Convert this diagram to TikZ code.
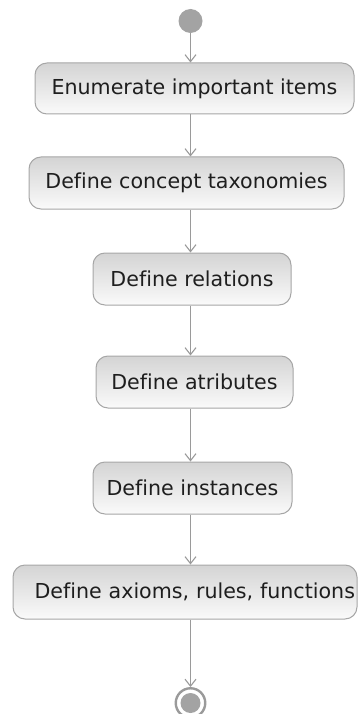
\documentclass[tikz,border=0pt]{standalone}
\usepackage{fontspec}
\setmainfont[Ligatures={NoCommon}]{DejaVu Sans}
\usetikzlibrary{arrows.meta}
\definecolor{lineg}{HTML}{9A9A9A}
\definecolor{boxtop}{HTML}{D4D4D4}
\definecolor{boxbot}{HTML}{FAFAFA}
\definecolor{boxborder}{HTML}{A6A6A6}
\definecolor{dotg}{HTML}{A3A3A3}
\definecolor{txt}{HTML}{1E1E1E}
\begin{document}
\begin{tikzpicture}[x=1pt,y=-1pt,
  act/.style={draw=boxborder, line width=1pt, rounded corners=12pt,
    top color=boxtop, bottom color=boxbot, minimum height=52pt,
    inner sep=0pt, font=\fontsize{20.6}{24}\selectfont, text=txt},
  flow/.style={draw=lineg, line width=1.1pt,
    -{Straight Barb[length=7pt,width=11pt,line width=1.1pt]}}]
\useasboundingbox (0,0) rectangle (360,714);
\node[circle, fill=dotg, minimum size=24pt, inner sep=0pt] (start) at (190.5,21) {};
\node[act, minimum width=319pt, minimum height=51pt] (n1) at (194.5,88.5) {Enumerate important items};
\node[act, minimum width=315pt] (n2) at (186.5,183) {Define concept taxonomies};
\node[act, minimum width=198pt] (n3) at (192,279) {Define relations};
\node[act, minimum width=197pt] (n4) at (194.5,382) {Define atributes};
\node[act, minimum width=199pt] (n5) at (192.5,488) {Define instances};
\node[act, minimum width=344pt, minimum height=54pt, text width=340pt, align=right] (n6) at (185,592) {Define axioms, rules, functions};
\node[circle, draw=lineg, line width=2.4pt, fill=white, minimum size=29.5pt, inner sep=0pt,
  path picture={\fill[dotg] (path picture bounding box.center) circle (10pt);}] (end) at (190.5,703) {};
\draw[flow] (start.south) -- (n1.north -| start);
\draw[flow] (n1.south -| start) -- (n2.north -| start);
\draw[flow] (n2.south -| start) -- (n3.north -| start);
\draw[flow] (n3.south -| start) -- (n4.north -| start);
\draw[flow] (n4.south -| start) -- (n5.north -| start);
\draw[flow] (n5.south -| start) -- (n6.north -| start);
\draw[flow] (n6.south -| start) -- (end.north);
\end{tikzpicture}
\end{document}
